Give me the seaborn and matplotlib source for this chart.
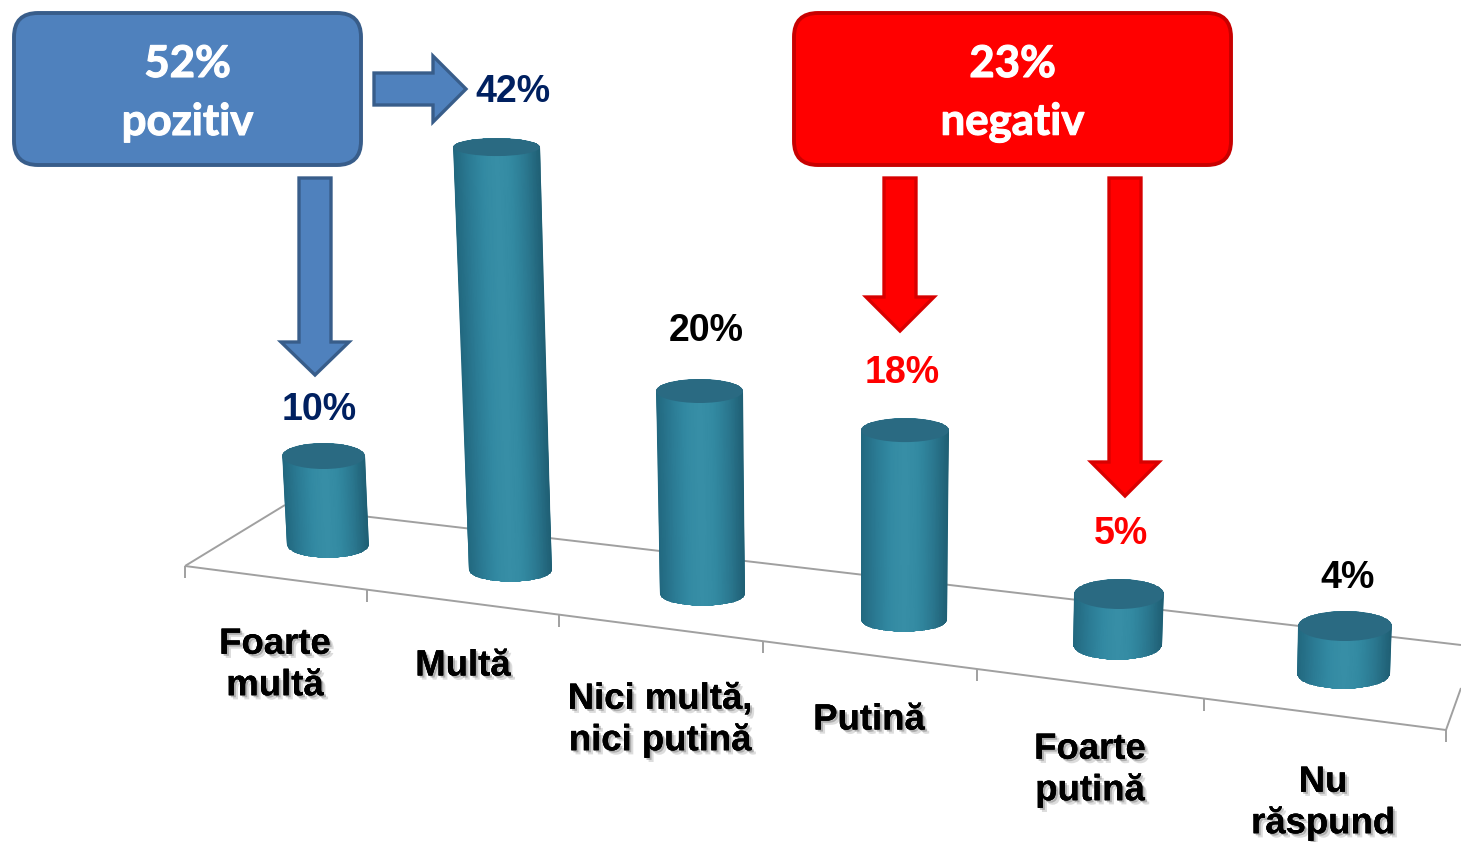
"""
3D-look cylinder chart: how much trust, with the positive / negative callouts.
"""

import numpy as np
import matplotlib
matplotlib.use("Agg")
import matplotlib.pyplot as plt
import matplotlib.patheffects as pe
from matplotlib.colors import LinearSegmentedColormap
from matplotlib.patches import Ellipse, FancyBboxPatch, Polygon
from matplotlib.transforms import Affine2D
import seaborn as sns

# Data
categories = ["Foarte\nmultă", "Multă", "Nici multă,\nnici putină", "Putină", "Foarte\nputină", "Nu\nrăspund"]
values = [10, 42, 20, 18, 5, 4]
value_colors = ["#002060", "#002060", "#000000", "#ff0000", "#ff0000", "#000000"]
callouts = ["52%\npozitiv", "23%\nnegativ"]

# Layout of the fake perspective, in pixels
base_x = [328, 510.5, 702.5, 904, 1117.5, 1343.5]
base_y = [545, 570, 594, 620, 645, 674]
px_per_pct = [8.9, 10.07, 10.15, 10.55, 10.2, 12.0]
top_shift = [-4.5, -14, -3, 1, 1.5, 1.5]
top_half = [41.5, 43.5, 43.5, 44, 45, 47]
base_half = [41, 41.5, 42.5, 43, 44.5, 46.5]
top_ry = [13, 9, 12, 12, 15, 15]
base_ry = [13, 12, 12, 12, 15, 15]
value_pos = [(319, 410), (513, 92), (706, 331), (902, 373), (1121, 534), (1348, 578)]
label_pos = [(275, 665), (463, 666), (660, 720), (869, 720), (1090, 770), (1323, 803)]
tick_x = [185, 367, 559, 763, 977, 1204, 1446]

sns.set_style("white")
fig = plt.figure(figsize=(14.61, 8.42), dpi=100)
ax = fig.add_axes([0, 0, 1, 1])

sns.barplot(x=base_x, y=values, native_scale=True, color="#2f7f98", saturation=1, ax=ax)
bars = list(ax.patches)

ax.set_xlim(0, 1461)
ax.set_ylim(842, 0)
ax.axis("off")

# Floor
floor_kw = dict(color="#a0a0a0", lw=1.4, zorder=0.5, solid_capstyle="butt")
ax.plot([185, 1446], [566, 730], **floor_kw)
ax.plot([185, 285], [566, 505], **floor_kw)
ax.plot([285, 1461], [507, 645], **floor_kw)
ax.plot([1446, 1461], [730, 688], **floor_kw)
for tx in tick_x:
    ty = 566 + (tx - 185) * (730 - 566) / (1446 - 185)
    ax.plot([tx, tx], [ty, ty + 12], **floor_kw)

# Cylinders
teal = LinearSegmentedColormap.from_list(
    "teal", ["#22687f", "#2b7a93", "#338aa3", "#388fa7", "#338aa2", "#2b778f", "#1f5f74"]
)
theta = np.linspace(0, np.pi, 60)

for i, bar in enumerate(bars):
    bar.set_x(base_x[i] - base_half[i])
    bar.set_width(2 * base_half[i])
    bar.set_linewidth(0)
    shear = top_shift[i] / bar.get_height()
    skew = Affine2D(np.array([[1, shear, 0], [0, -px_per_pct[i], base_y[i]], [0, 0, 1]]))
    bar.set_transform(skew + ax.transData)

    bx, by = base_x[i], base_y[i]
    tx, ty = skew.transform((bx, bar.get_height()))

    # outline: upper arc of the top, lower arc of the base
    top_arc = np.c_[tx - top_half[i] * np.cos(theta), ty - top_ry[i] * np.sin(theta)]
    low_arc = np.c_[bx + base_half[i] * np.cos(theta), by + base_ry[i] * np.sin(theta)]
    outline = Polygon(np.r_[top_arc, low_arc], closed=True, transform=ax.transData)

    u = np.linspace(0, 1, 24)
    y0, y1 = ty - top_ry[i] - 2, by + base_ry[i] + 2
    X = np.vstack([tx - top_half[i] + u * 2 * top_half[i], bx - base_half[i] + u * 2 * base_half[i]])
    Y = np.vstack([np.full_like(u, y0), np.full_like(u, y1)])
    C = np.vstack([u, u])
    mesh = ax.pcolormesh(X, Y, C, cmap=teal, vmin=0, vmax=1, shading="gouraud", zorder=2)
    mesh.set_clip_path(outline)

    ax.add_patch(Ellipse((tx, ty), 2 * top_half[i], 2 * top_ry[i], angle=0,
                         facecolor="#2a6a82", edgecolor="none", zorder=3))

    ax.text(value_pos[i][0], value_pos[i][1], f"{values[i]}%", color=value_colors[i],
            family="Liberation Sans", fontweight="bold", fontsize=27,
            ha="center", va="center", zorder=5)
    ax.text(label_pos[i][0], label_pos[i][1], categories[i], color="black",
            family="Liberation Sans", fontweight="bold", fontsize=26.3, linespacing=1.24,
            ha="center", va="center", zorder=5,
            path_effects=[pe.withSimplePatchShadow(offset=(3, -3), shadow_rgbFace="#777777", alpha=0.25),
                          pe.withSimplePatchShadow(offset=(1.5, -1.5), shadow_rgbFace="#666666", alpha=0.4),
                          pe.Normal()])


def callout(x0, y0, x1, y1, face, edge, text):
    box = FancyBboxPatch((x0 + 24, y0 + 24), x1 - x0 - 48, y1 - y0 - 48,
                         boxstyle="round,pad=24,rounding_size=24",
                         facecolor=face, edgecolor=edge, lw=2.8, zorder=4)
    ax.add_patch(box)
    top, bottom = text.split("\n")
    for line, yy in ((top, y0 + 51), (bottom, y0 + 109)):
        ax.text((x0 + x1) / 2, yy, line, color="white", family="Lato", fontweight="bold",
                fontsize=31.5, ha="center", va="center", zorder=5,
                path_effects=[pe.withStroke(linewidth=0.8, foreground="white")])


def down_arrow(xc, y0, y_head, y_tip, face, edge):
    pts = [(xc - 16, y0), (xc + 16, y0), (xc + 16, y_head), (xc + 34, y_head),
           (xc, y_tip), (xc - 34, y_head), (xc - 16, y_head)]
    ax.add_patch(Polygon(pts, closed=True, facecolor=face, edgecolor=edge, lw=2.4,
                         joinstyle="miter", zorder=4))


blue, blue_edge = "#4f81bd", "#385d8a"
red, red_edge = "#ff0000", "#d80000"

callout(14, 13, 361, 165, blue, blue_edge, callouts[0])
callout(794, 13, 1231, 165, red, "#c80000", callouts[1])

ax.add_patch(Polygon([(374, 73), (433, 73), (433, 56), (466, 89), (433, 122), (433, 105), (374, 105)],
                     closed=True, facecolor=blue, edgecolor=blue_edge, lw=2.4, joinstyle="miter", zorder=4))
down_arrow(315, 178, 342, 375, blue, blue_edge)
down_arrow(900, 178, 297, 331, red, red_edge)
down_arrow(1125, 178, 462, 496, red, red_edge)

plt.savefig("out.png", dpi=100)
plt.close()
